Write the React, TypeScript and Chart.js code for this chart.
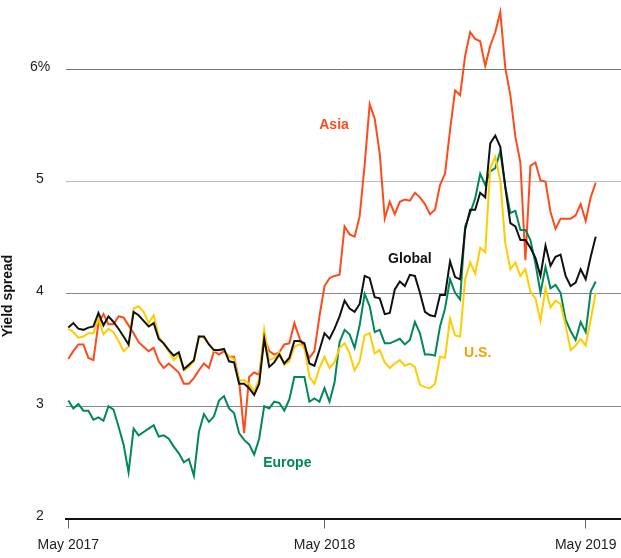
import { useEffect, useRef } from "react";
import { Chart, registerables } from "chart.js";

Chart.register(...registerables);

// Weekly yield spreads, May 2017 – May 2019 (week index 0..105)
const globalSpread = [
  3.70, 3.74, 3.69, 3.68, 3.70, 3.71, 3.83, 3.72, 3.80, 3.75, 3.69, 3.62, 3.55, 3.84, 3.81, 3.76, 3.71, 3.74, 3.60, 3.56, 3.50, 3.45, 3.48,
  3.33, 3.37, 3.41, 3.62, 3.62, 3.55, 3.50, 3.50, 3.51, 3.40, 3.39, 3.20, 3.20, 3.16, 3.10, 3.20, 3.60, 3.35, 3.39, 3.46, 3.38, 3.43, 3.58, 3.58, 3.56, 3.38, 3.36, 3.50,
  3.65, 3.60, 3.69, 3.80, 3.94, 3.87, 3.84, 3.91, 4.16, 4.14, 3.97, 3.96, 3.82, 3.83, 4.04, 4.11, 4.07, 4.17, 4.16, 4.01, 3.84, 3.81, 3.80, 3.99, 3.99, 4.29, 4.15, 4.13,
  4.57, 4.75, 4.75, 4.90, 4.86, 5.34, 5.41, 5.31, 4.95, 4.63, 4.60, 4.48, 4.48, 4.41, 4.32, 4.16, 4.43, 4.25, 4.33, 4.35, 4.16, 4.07, 4.10, 4.22, 4.13, 4.33, 4.51,
];
const usSpread = [
  3.69, 3.66, 3.61, 3.62, 3.65, 3.65, 3.78, 3.64, 3.69, 3.66, 3.58, 3.49, 3.53, 3.87, 3.89, 3.84, 3.74, 3.81, 3.62, 3.55, 3.49, 3.41, 3.46,
  3.32, 3.35, 3.40, 3.62, 3.61, 3.55, 3.49, 3.50, 3.50, 3.44, 3.42, 3.23, 3.23, 3.20, 3.13, 3.24, 3.68, 3.41, 3.43, 3.48, 3.37, 3.40, 3.53, 3.55, 3.53, 3.26, 3.20, 3.34,
  3.44, 3.34, 3.39, 3.52, 3.56, 3.47, 3.32, 3.40, 3.63, 3.65, 3.47, 3.50, 3.39, 3.34, 3.38, 3.41, 3.36, 3.38, 3.35, 3.19, 3.17, 3.16, 3.20, 3.44, 3.43, 3.78, 3.63, 3.62,
  4.13, 4.28, 4.18, 4.41, 4.37, 5.12, 5.22, 5.01, 4.45, 4.22, 4.28, 4.16, 4.22, 4.02, 3.96, 3.76, 4.05, 3.88, 3.94, 3.91, 3.72, 3.50, 3.54, 3.60, 3.54, 3.77, 4.01,
];
const asiaSpread = [
  3.42, 3.49, 3.55, 3.55, 3.43, 3.41, 3.74, 3.82, 3.73, 3.73, 3.80, 3.79, 3.72, 3.65, 3.57, 3.53, 3.49, 3.52, 3.40, 3.34, 3.38, 3.34, 3.30,
  3.20, 3.20, 3.25, 3.32, 3.38, 3.34, 3.49, 3.46, 3.49, 3.44, 3.44, 3.23, 2.76, 3.26, 3.30, 3.28, 3.61, 3.49, 3.46, 3.48, 3.55, 3.56, 3.74, 3.61, 3.52, 3.43, 3.49, 3.80,
  4.07, 4.14, 4.16, 4.17, 4.60, 4.53, 4.51, 4.69, 5.15, 5.69, 5.56, 5.25, 4.67, 4.82, 4.71, 4.82, 4.84, 4.83, 4.90, 4.86, 4.80, 4.71, 4.75, 4.97, 5.07, 5.46, 5.81, 5.77,
  6.12, 6.33, 6.27, 6.25, 6.03, 6.21, 6.33, 6.51, 6.01, 5.77, 5.40, 5.17, 4.30, 5.14, 5.17, 5.01, 5.00, 4.73, 4.58, 4.67, 4.67, 4.67, 4.70, 4.80, 4.65, 4.86, 4.99,
];
const europeSpread = [
  3.05, 2.98, 3.02, 2.96, 2.96, 2.88, 2.90, 2.87, 3.00, 2.97, 2.82, 2.66, 2.41, 2.80, 2.74, 2.77, 2.80, 2.83, 2.73, 2.74, 2.71, 2.64, 2.58,
  2.50, 2.53, 2.38, 2.77, 2.93, 2.86, 2.91, 3.05, 3.09, 2.98, 2.94, 2.76, 2.70, 2.66, 2.57, 2.71, 3.00, 2.98, 3.04, 3.03, 2.96, 3.06, 3.26, 3.26, 3.26, 3.04, 3.07, 3.04,
  3.16, 3.04, 3.21, 3.57, 3.68, 3.64, 3.52, 3.72, 4.00, 3.89, 3.66, 3.68, 3.56, 3.56, 3.58, 3.60, 3.55, 3.59, 3.75, 3.65, 3.46, 3.46, 3.45, 3.71, 3.87, 4.13, 4.01, 3.95,
  4.60, 4.72, 4.85, 5.07, 4.97, 5.09, 5.12, 5.27, 4.95, 4.72, 4.74, 4.57, 4.57, 4.48, 4.27, 4.01, 4.24, 4.05, 4.08, 4.01, 3.77, 3.67, 3.59, 3.75, 3.66, 4.02, 4.11,
];

const xTickWeeks = [0, 51, 103];
const xTickLabels = ["May 2017", "May 2018", "May 2019"];
const yTickValues = [2, 3, 4, 5, 6];
const yTickLabels = ["2", "3", "4", "5", "6%"];

const seriesNames = ["Global", "U.S.", "Europe", "Asia"];
const seriesColors = ["#111111", "#ffcc00", "#00875a", "#ff4a1c"];
const labelColors = ["#111111", "#eda400", "#00875a", "#ff4a1c"];
// label anchor in data coordinates (week index, spread)
const labelWeeks = [68.0, 81.5, 43.6, 52.9];
const labelValues = [4.31, 3.47, 2.49, 5.5];

const FONT = "'Liberation Sans', Arial, sans-serif";

export default function App() {
  const ref = useRef<HTMLCanvasElement>(null);

  useEffect(() => {
    document.body.style.margin = "0";
    const canvas = ref.current;
    if (!canvas) return;
    const allSeries = [globalSpread, usSpread, europeSpread, asiaSpread];

    const overlay = {
      id: "overlay",
      afterDraw(chart: any) {
        const ctx = chart.ctx;
        const xs = chart.scales.x;
        const ys = chart.scales.y;
        ctx.save();
        // y tick labels
        ctx.fillStyle = "#222";
        ctx.font = `14px ${FONT}`;
        ctx.textAlign = "center";
        ctx.textBaseline = "middle";
        yTickValues.forEach((v, i) => {
          ctx.fillText(yTickLabels[i], 40, ys.getPixelForValue(v) - 2.5);
        });
        // y title
        ctx.save();
        ctx.translate(8, 296);
        ctx.rotate(-Math.PI / 2);
        ctx.font = `bold 14px ${FONT}`;
        ctx.fillStyle = "#111";
        ctx.fillText("Yield spread", 0, 0);
        ctx.restore();
        // series labels
        ctx.font = `bold 14px ${FONT}`;
        seriesNames.forEach((name, i) => {
          ctx.fillStyle = labelColors[i];
          ctx.fillText(name, xs.getPixelForValue(labelWeeks[i]), ys.getPixelForValue(labelValues[i]));
        });
        ctx.restore();
      },
    };

    const chart = new Chart(canvas, {
      type: "line",
      data: {
        datasets: allSeries.map((vals, i) => ({
          label: seriesNames[i],
          data: vals.map((v, k) => ({ x: k, y: v })),
          borderColor: seriesColors[i],
          backgroundColor: seriesColors[i],
          borderWidth: 2,
          pointRadius: 0,
          tension: 0,
          fill: false,
        })),
      },
      options: {
        responsive: false,
        animation: false,
        devicePixelRatio: 1,
        layout: { padding: 0 },
        plugins: { legend: { display: false }, tooltip: { enabled: false } },
        scales: {
          x: {
            type: "linear",
            min: -0.458,
            max: 110.03,
            afterBuildTicks: (s: any) => {
              s.ticks = xTickWeeks.map((v) => ({ value: v }));
            },
            afterFit: (s: any) => {
              s.height = 39.5;
              s.paddingLeft = 0;
              s.paddingRight = 0;
            },
            grid: { drawOnChartArea: false, drawTicks: true, tickLength: 10, color: "#666", lineWidth: 1 },
            border: { display: true, color: "#111", width: 2 },
            ticks: {
              autoSkip: false,
              maxRotation: 0,
              padding: 8,
              color: "#222",
              font: { family: FONT, size: 14 },
              callback: (_v: any, i: number) => xTickLabels[i],
            },
          },
          y: {
            type: "linear",
            min: 2,
            max: 6.617,
            afterBuildTicks: (s: any) => {
              s.ticks = yTickValues.map((v) => ({ value: v }));
            },
            afterFit: (s: any) => {
              s.width = 66;
              s.paddingTop = 0;
              s.paddingBottom = 0;
            },
            grid: {
              drawTicks: false,
              lineWidth: 1,
              color: (c: any) => {
                const v = c.tick ? c.tick.value : 0;
                if (v === 6) return "#777";
                if (v === 5) return "#bbb";
                if (v === 2) return "rgba(0,0,0,0)";
                return "#888";
              },
            },
            border: { display: false },
            ticks: { display: false },
          },
        },
      },
      plugins: [overlay],
    });
    return () => chart.destroy();
  }, []);

  return <canvas ref={ref} width={621} height={558} style={{ display: "block" }} />;
}
